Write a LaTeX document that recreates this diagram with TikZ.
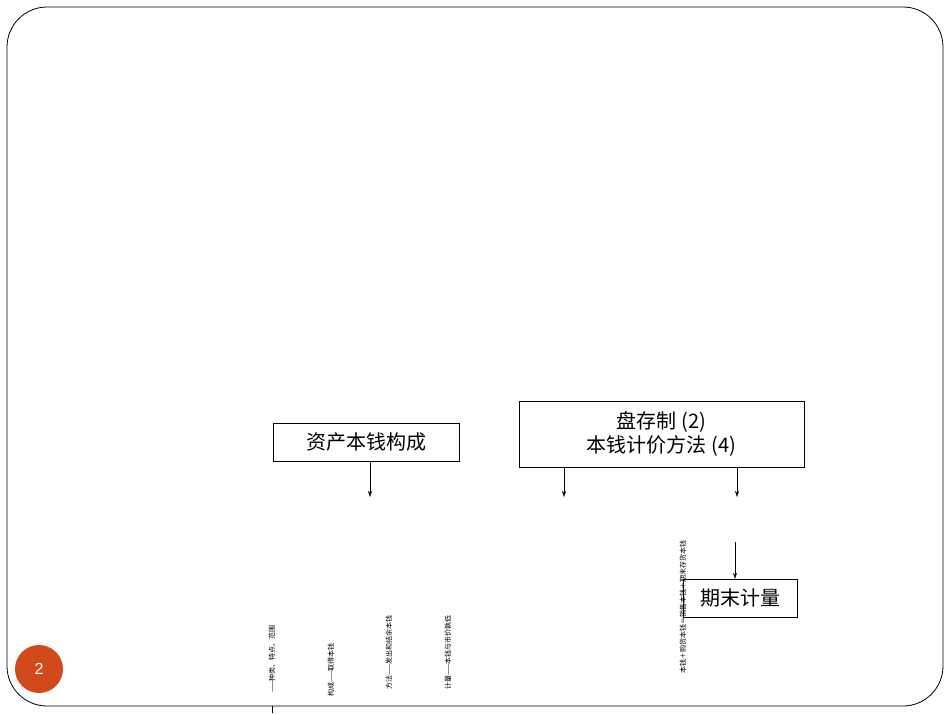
\documentclass[tikz,border=0pt]{standalone}
\usepackage{fontspec}
\setmainfont{Liberation Sans}
\newfontfamily\cjk{Noto Sans CJK SC}
\begin{document}
\begin{tikzpicture}[x=1pt,y=-1pt,
  box/.style={draw,thin,inner sep=0pt,font=\cjk\fontsize{20}{24}\selectfont},
  arr/.style={-{Stealth[length=6pt,width=4pt]}},
  small/.style={rotate=90,anchor=east,font=\cjk\fontsize{7}{8}\selectfont,inner sep=0pt}]
\usetikzlibrary{arrows.meta}
\useasboundingbox (0,0) rectangle (950,713);
\clip (0,0) rectangle (950,713);
\draw[line width=0.8pt] (7,7) [rounded corners=40] rectangle (943,706);
\node[box,minimum width=186,minimum height=38] (a) at (366,442) {资产本钱构成};
\node[box,minimum width=285,minimum height=66,align=center] (b) at (661.5,434) {盘存制 (2)\\本钱计价方法 (4)};
\node[box,minimum width=114,minimum height=38] (c) at (740,598) {期末计量};
\coordinate (a1) at (370,497);
\coordinate (b1) at (564,497);
\coordinate (b2) at (737,497);
\coordinate (c0) at (735,542);
\draw[arr] (a.south -| a1) -- (a1);
\draw[arr] (b.south -| b1) -- (b1);
\draw[arr] (b.south -| b2) -- (b2);
\draw[arr] (c0) -- (c.north -| c0);
\node[circle,fill={rgb,255:red,210;green,74;blue,28},minimum size=48,inner sep=0pt,text=white,font=\fontsize{16}{18}\selectfont] (n) at (39,669) {2};
\coordinate (l0) at (272,706);
\coordinate (l1) at (272,713);
\draw (l0) -- (l1);
\node[small] (t1) at (272,625) {——种类、特点、范围};
\node[small] (t2) at (331,643) {构成——取得本钱};
\node[small] (t3) at (389,615) {方法——发出和结余本钱};
\node[small] (t4) at (448,615) {计量——本钱与市价孰低};
\node[small] (t5) at (683,540) {本钱＋购货本钱＝销售本钱＋期末存货本钱};
\end{tikzpicture}
\end{document}
